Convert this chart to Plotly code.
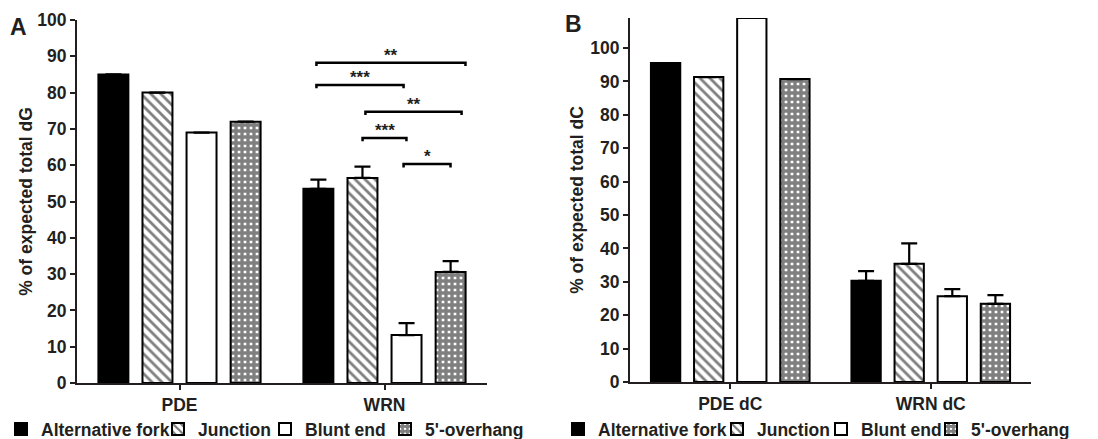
import plotly.graph_objects as go

# ---------------- data ----------------
series = ["Alternative fork", "Junction", "Blunt end", "5'-overhang"]
groups_A = ["PDE", "WRN"]
groups_B = ["PDE dC", "WRN dC"]

A_alt = [85.0, 53.5]
A_junction = [80.0, 56.5]
A_blunt = [69.0, 13.2]
A_overhang = [72.0, 30.6]
A_alt_err = [None, 2.5]
A_junction_err = [None, 3.1]
A_blunt_err = [None, 3.3]
A_overhang_err = [None, 3.0]

B_alt = [95.5, 30.3]
B_junction = [91.3, 35.4]
B_blunt = [109.0, 25.7]
B_overhang = [90.7, 23.4]
B_alt_err = [None, 2.9]
B_junction_err = [None, 6.1]
B_blunt_err = [None, 2.1]
B_overhang_err = [None, 2.6]

sig_x0 = [0.668, 0.668, 0.907, 0.893, 1.093]
sig_x1 = [1.395, 1.093, 1.376, 1.107, 1.322]
sig_y = [88.2, 82.1, 74.7, 67.5, 60.3]
sig_label = ["**", "***", "**", "***", "*"]

yticks = list(range(0, 101, 10))

# ---------------- styles ----------------
FONT = "Liberation Sans, Arial, sans-serif"
TXT = "#231f20"
W, H = 1098, 439
styles = [
    dict(color="black", pattern=dict(shape="")),
    dict(color="white", pattern=dict(shape="\\", fgcolor="black", bgcolor="white", size=7, solidity=0.4)),
    dict(color="white", pattern=dict(shape="")),
    dict(color="white", pattern=dict(shape="+", fgcolor="black", bgcolor="white", size=6, solidity=0.8)),
]
# legend text left edges (px) for each entry, panel A then panel B
legend_text_px_A = [48, 205, 312, 432]
legend_text_px_B = [605, 764, 868, 978]

fig = go.Figure()

def add_panel(vals, errs, xa, ya, legend_names):
    for i, (name, v, e) in enumerate(zip(series, vals, errs)):
        st = styles[i]
        fig.add_trace(go.Bar(
            x=[0, 1], y=v, name=name, xaxis=xa, yaxis=ya, legend=legend_names[i],
            offsetgroup=str(i),
            marker=dict(color=st["color"], pattern=st["pattern"],
                        line=dict(color="black", width=2)),
            error_y=dict(type="data", array=e, symmetric=False,
                         arrayminus=[0, 0], color="black", thickness=2.2, width=8),
        ))

leg_A = ["legend", "legend2", "legend3", "legend4"]
leg_B = ["legend5", "legend6", "legend7", "legend8"]
add_panel([A_alt, A_junction, A_blunt, A_overhang],
          [A_alt_err, A_junction_err, A_blunt_err, A_overhang_err], "x", "y", leg_A)
add_panel([B_alt, B_junction, B_blunt, B_overhang],
          [B_alt_err, B_junction_err, B_blunt_err, B_overhang_err], "x2", "y2", leg_B)

# significance brackets (panel A)
for x0, x1, y, lab in zip(sig_x0, sig_x1, sig_y, sig_label):
    fig.add_shape(type="path", xref="x", yref="y",
                  path=f"M {x0},{y-0.9} L {x0},{y} L {x1},{y} L {x1},{y-0.9}",
                  line=dict(color="black", width=2.5))
    fig.add_annotation(x=(x0 + x1) / 2, y=y, xref="x", yref="y", text=lab,
                       showarrow=False, yanchor="bottom", yshift=-4,
                       font=dict(family=FONT, size=17, color=TXT, weight="bold"))

axis_common = dict(showline=True, linecolor="#231f20", linewidth=2, ticks="outside",
                   ticklen=5, tickwidth=2, tickcolor="#231f20", showgrid=False, zeroline=False,
                   automargin=False,
                   tickfont=dict(family=FONT, size=17.5, color=TXT, weight="bold"))

legend_layout = {}
for names, pxs in ((leg_A, legend_text_px_A), (leg_B, legend_text_px_B)):
    for name, px in zip(names, pxs):
        legend_layout[name] = dict(
            orientation="h", x=(px - 47) / W, y=1 - 429 / H, xanchor="left", yanchor="middle",
            font=dict(family=FONT, size=17.5, color=TXT, weight="bold"),
            bgcolor="rgba(0,0,0,0)", itemwidth=30)

fig.update_layout(
    width=W, height=H,
    margin=dict(l=0, r=0, t=0, b=0, autoexpand=False),
    paper_bgcolor="white", plot_bgcolor="white",
    barmode="group", bargap=0.14, bargroupgap=0.32,
    xaxis=dict(domain=[77 / W, 487 / W], range=[-0.5, 1.5], tickvals=[0, 1], ticktext=groups_A,
               anchor="y", **axis_common),
    yaxis=dict(domain=[1 - 383 / H, 1 - 20 / H], range=[0, 100], tickvals=yticks, anchor="x",
               title=dict(text="% of expected total dG", standoff=0,
                          font=dict(family=FONT, size=17.5, color=TXT, weight="bold")),
               **axis_common),
    xaxis2=dict(domain=[630 / W, 1031 / W], range=[-0.5, 1.5], tickvals=[0, 1], ticktext=groups_B,
                anchor="y2", **axis_common),
    yaxis2=dict(domain=[1 - 382 / H, 1 - 18 / H], range=[0, 109], tickvals=yticks, anchor="x2",
                title=dict(text="% of expected total dC", standoff=2,
                           font=dict(family=FONT, size=17.5, color=TXT, weight="bold")),
                **axis_common),
    showlegend=True,
    **legend_layout,
)

fig.add_annotation(x=8 / W, y=1 - 12 / H, xref="paper", yref="paper", text="A", showarrow=False,
                   xanchor="left", yanchor="top",
                   font=dict(family=FONT, size=23, color=TXT, weight="bold"))
fig.add_annotation(x=563 / W, y=1 - 9 / H, xref="paper", yref="paper", text="B", showarrow=False,
                   xanchor="left", yanchor="top",
                   font=dict(family=FONT, size=23, color=TXT, weight="bold"))

fig.write_html("out.html", config={"displayModeBar": False},
               post_script="document.body.style.margin='0px';document.body.style.overflow='hidden';")
